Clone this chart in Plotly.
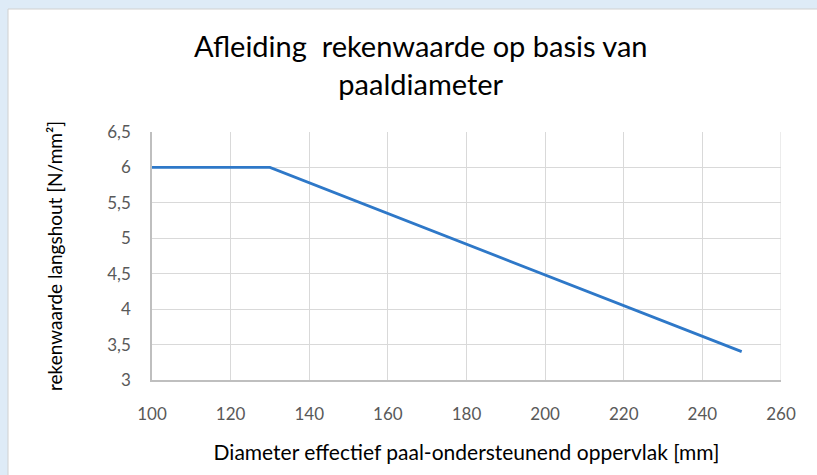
import plotly.graph_objects as go

diameter_mm = [100, 130, 250]
rekenwaarde = [6.0, 6.0, 3.4]

title_text = "Afleiding  rekenwaarde op basis van<br>paaldiameter"
x_title = "Diameter effectief paal-ondersteunend oppervlak [mm]"
y_title = "rekenwaarde langshout [N/mm²]"
y_tickvals = [3, 3.5, 4, 4.5, 5, 5.5, 6, 6.5]
y_ticktext = ["3", "3,5", "4", "4,5", "5", "5,5", "6", "6,5"]

fig = go.Figure()
fig.add_trace(go.Scatter(x=diameter_mm, y=rekenwaarde, mode="lines",
                         line=dict(color="#2E78C8", width=2.8), showlegend=False))

L, R, T, B = 152, 36, 132, 95
pw = 817 - L - R
ph = 475 - T - B
fig.add_shape(type="rect", xref="paper", yref="paper", layer="below",
              x0=(8 - L) / pw, x1=(817 - L + 5) / pw,
              y0=-(B + 5) / ph, y1=(475 - B - 9) / ph,
              fillcolor="white", line=dict(color="#D0D0D0", width=1))

fig.update_layout(
    width=817, height=475,
    margin=dict(l=L, r=R, t=T, b=B, autoexpand=False),
    paper_bgcolor="#DEEBF7", plot_bgcolor="white",
    font=dict(family="Lato", color="#595959"),
    title=dict(text=title_text, x=0.515, xanchor="center", y=0.88, yanchor="middle",
               font=dict(size=29, color="#000000", family="Lato")),
    xaxis=dict(range=[100, 260], dtick=20, showgrid=True, gridcolor="#D9D9D9", gridwidth=1,
               showline=True, linecolor="#BFBFBF", linewidth=1.5, zeroline=False,
               ticks="outside", ticklen=18, tickcolor="rgba(0,0,0,0)",
               tickfont=dict(size=17, color="#595959"),
               title=dict(text=x_title, font=dict(size=21, color="#000000"), standoff=22)),
    yaxis=dict(range=[3, 6.5], tickvals=y_tickvals, ticktext=y_ticktext,
               showgrid=True, gridcolor="#D9D9D9", gridwidth=1,
               showline=True, linecolor="#BFBFBF", linewidth=1.5, zeroline=False,
               ticks="outside", ticklen=16, tickcolor="rgba(0,0,0,0)",
               tickfont=dict(size=17, color="#595959"),
               title=dict(text=y_title, font=dict(size=19, color="#000000"), standoff=40)),
)
fig.add_shape(type="line", xref="x", yref="y", x0=260, x1=260, y0=3, y1=6.5,
              line=dict(color="#D9D9D9", width=1))

fig.write_html("out.html", config={"displayModeBar": False},
               post_script="document.body.style.margin='0';")
